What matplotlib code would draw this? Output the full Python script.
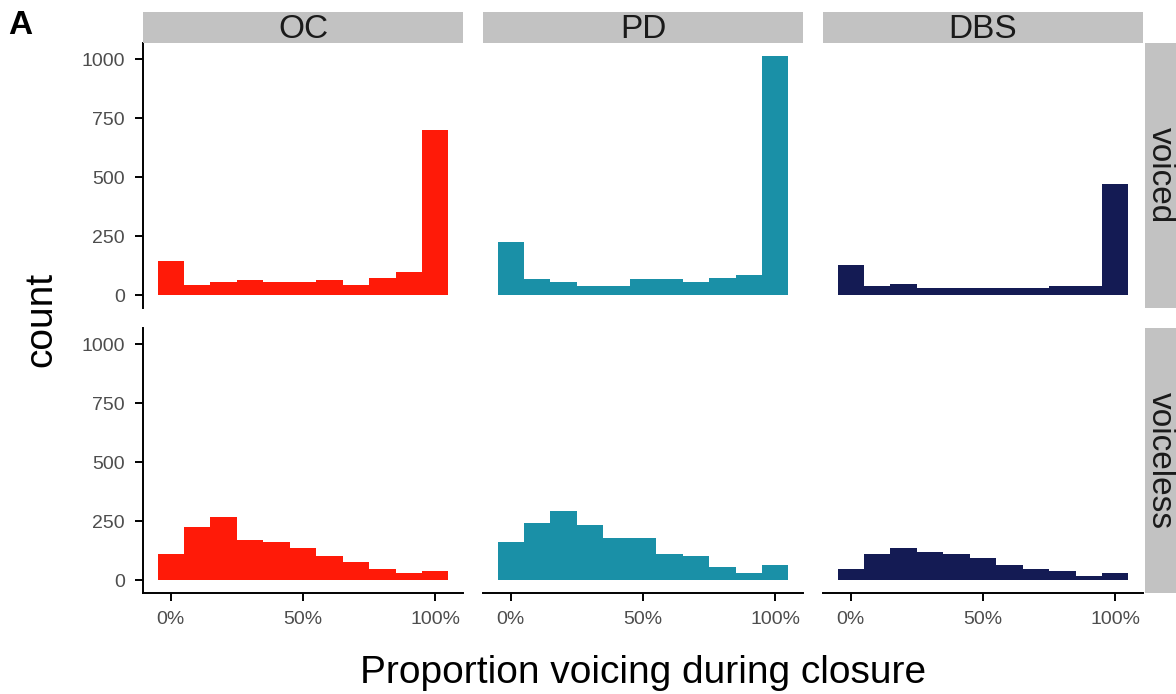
import matplotlib
matplotlib.use("Agg")
import matplotlib.pyplot as plt
from matplotlib.ticker import PercentFormatter

plt.rcParams['font.family'] = ['Liberation Sans', 'DejaVu Sans']

# ---- data ----
bin_centers = [0.0, 0.1, 0.2, 0.3, 0.4, 0.5, 0.6, 0.7, 0.8, 0.9, 1.0]
groups = ["OC", "PD", "DBS"]
rows = ["voiced", "voiceless"]

oc_voiced = [145, 46, 55, 65, 55, 55, 65, 46, 73, 100, 699]
pd_voiced = [225, 68, 58, 39, 39, 68, 68, 58, 76, 85, 1012]
dbs_voiced = [128, 39, 49, 31, 31, 31, 31, 31, 39, 39, 472]

oc_voiceless = [112, 225, 270, 173, 164, 136, 102, 77, 49, 32, 42]
pd_voiceless = [164, 243, 295, 235, 180, 180, 112, 102, 56, 32, 66]
dbs_voiceless = [49, 110, 138, 122, 110, 94, 66, 49, 39, 21, 31]

y_ticks = [0, 250, 500, 750, 1000]
x_ticks = [0, 0.5, 1.0]

colors = {"OC": "#FF1A08", "PD": "#1A90A7", "DBS": "#141B54"}
data = {
    ("voiced", "OC"): oc_voiced, ("voiced", "PD"): pd_voiced, ("voiced", "DBS"): dbs_voiced,
    ("voiceless", "OC"): oc_voiceless, ("voiceless", "PD"): pd_voiceless, ("voiceless", "DBS"): dbs_voiceless,
}

W, H = 1176, 694
fig = plt.figure(figsize=(W / 100, H / 100), dpi=100)

def px_axes(x0, y0, x1, y1, **kw):
    # pixel box (top-left origin) -> figure axes
    return fig.add_axes([x0 / W, 1 - y1 / H, (x1 - x0) / W, (y1 - y0) / H], **kw)

col_x = [(143, 463), (483, 803), (823, 1143)]
row_y = [(43, 308), (328, 593)]
strip_col = "#C2C2C2"
axis_lw = 1.4
tick_col = "#4D4D4D"

for ri, row in enumerate(rows):
    for ci, grp in enumerate(groups):
        x0, x1 = col_x[ci]
        y0, y1 = row_y[ri]
        ax = px_axes(x0, y0, x1, y1)
        ax.bar(bin_centers, data[(row, grp)], width=0.1, align="center",
               color=colors[grp], edgecolor="none", linewidth=0)
        ax.set_xlim(-0.105, 1.105)
        ax.set_ylim(-53, 1068)
        for s in ax.spines.values():
            s.set_visible(False)
        ax.set_yticks(y_ticks)
        ax.set_xticks(x_ticks)
        ax.xaxis.set_major_formatter(PercentFormatter(1.0, decimals=0))
        ax.tick_params(axis="both", length=6, width=1.4, color="black",
                       labelsize=14, labelcolor=tick_col, pad=7)
        if ci == 0:
            ax.spines["left"].set_visible(True)
            ax.spines["left"].set_linewidth(axis_lw)
        else:
            ax.tick_params(axis="y", left=False, labelleft=False)
        if ri == 1:
            ax.spines["bottom"].set_visible(True)
            ax.spines["bottom"].set_linewidth(axis_lw)
        else:
            ax.tick_params(axis="x", bottom=False, labelbottom=False)

        # column strips on top row
        if ri == 0:
            sax = px_axes(x0, 12, x1, 43)
            sax.set_facecolor(strip_col)
            sax.set_xticks([]); sax.set_yticks([])
            for s in sax.spines.values():
                s.set_visible(False)
            sax.text(0.5, 0.45, grp, ha="center", va="center", fontsize=24,
                     color="#1A1A1A", transform=sax.transAxes)
        # row strips on last column
        if ci == 2:
            sax = px_axes(1145, y0, 1176, y1)
            sax.set_facecolor(strip_col)
            sax.set_xticks([]); sax.set_yticks([])
            for s in sax.spines.values():
                s.set_visible(False)
            sax.text(0.5, 0.5, row, ha="center", va="center", fontsize=24,
                     rotation=-90, color="#1A1A1A", transform=sax.transAxes)

fig.text(41 / W, 1 - 319 / H, "count", rotation=90, ha="center", va="center",
         fontsize=28, color="black")
fig.text(643 / W, 1 - 683 / H, "Proportion voicing during closure", ha="center",
         va="baseline", fontsize=28, color="black")
fig.text(8 / W, 1 - 34 / H, "A", ha="left", va="baseline", fontsize=24,
         fontweight="bold", color="black")

fig.savefig("out.png", dpi=100)
